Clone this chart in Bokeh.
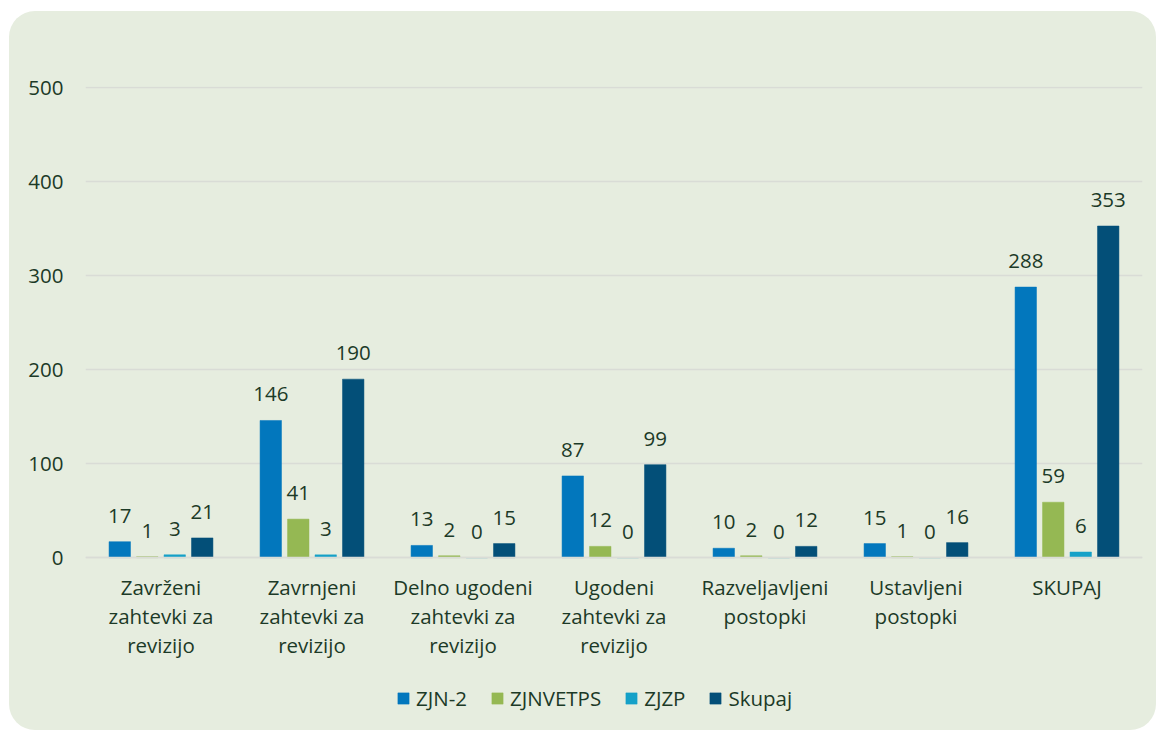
from bokeh.plotting import figure
from bokeh.models import ColumnDataSource, FactorRange, Range1d, Legend, LegendItem
from bokeh.transform import dodge
from bokeh.core.properties import value
from bokeh.embed import file_html
from bokeh.resources import INLINE

categories = [
    "Zavrženi\nzahtevki za\nrevizijo",
    "Zavrnjeni\nzahtevki za\nrevizijo",
    "Delno ugodeni\nzahtevki za\nrevizijo",
    "Ugodeni\nzahtevki za\nrevizijo",
    "Razveljavljeni\npostopki",
    "Ustavljeni\npostopki",
    "SKUPAJ",
]
series_names = ["ZJN-2", "ZJNVETPS", "ZJZP", "Skupaj"]
zjn2 = [17, 146, 13, 87, 10, 15, 288]
zjnvetps = [1, 41, 2, 12, 2, 1, 59]
zjzp = [3, 3, 0, 0, 0, 0, 6]
skupaj = [21, 190, 15, 99, 12, 16, 353]
y_ticks = [0, 100, 200, 300, 400, 500]

colors = ["#0277BD", "#95B853", "#15A1C8", "#034F78"]
offsets = [-0.273, -0.091, 0.091, 0.273]
bar_w = 0.142

BG = "#E6EDDF"
TXT = "#1C3A27"
FONT = "Open Sans"

src = ColumnDataSource(dict(
    cat=categories,
    s0=zjn2, s1=zjnvetps, s2=zjzp, s3=skupaj,
    l0=[str(v) for v in zjn2], l1=[str(v) for v in zjnvetps],
    l2=[str(v) for v in zjzp], l3=[str(v) for v in skupaj],
))

p = figure(
    x_range=FactorRange(*categories, range_padding=0.0),
    y_range=Range1d(-184, 501.5),
    width=1147, height=719,
    output_backend="svg", toolbar_location=None,
    min_border_left=76, min_border_right=14, min_border_top=75, min_border_bottom=0,
)
p.margin = (11, 0, 0, 9)
p.styles = {"border-radius": "26px", "overflow": "hidden", "background-color": BG}
p.background_fill_color = BG
p.background_fill_alpha = 0
p.border_fill_color = BG
p.border_fill_alpha = 0
p.outline_line_color = None

renderers = []
for i, name in enumerate(series_names):
    r = p.vbar(x=dodge("cat", offsets[i], range=p.x_range), top="s%d" % i, width=bar_w,
               source=src, fill_color=colors[i], line_color=colors[i], line_width=0.5)
    renderers.append(r)
    p.text(x=dodge("cat", offsets[i], range=p.x_range), y="s%d" % i, text="l%d" % i,
           source=src, text_align="center", text_baseline="bottom", y_offset=-19,
           text_font=value(FONT), text_font_size="20.5px", text_color=TXT)

p.xgrid.grid_line_color = None
p.ygrid.grid_line_color = "#D9DCD6"
p.ygrid.grid_line_width = 1.5
p.yaxis.ticker = y_ticks
p.yaxis.axis_line_color = None
p.yaxis.major_tick_line_color = None
p.yaxis.minor_tick_line_color = None
p.yaxis.major_label_standoff = 16
p.yaxis.major_label_text_font = FONT
p.yaxis.major_label_text_font_size = "20.5px"
p.yaxis.major_label_text_color = TXT

p.xaxis.fixed_location = 0
p.xaxis.axis_line_color = "#D9DCD6"
p.xaxis.axis_line_width = 1.5
p.xaxis.major_tick_line_color = None
p.xaxis.minor_tick_line_color = None
p.xaxis.major_label_standoff = 9
p.xaxis.major_label_text_font = FONT
p.xaxis.major_label_text_font_size = "20.5px"
p.xaxis.major_label_text_color = TXT
p.xaxis.major_label_text_line_height = 1.04

legend = Legend(
    items=[LegendItem(label=series_names[i], renderers=[renderers[i]]) for i in range(4)],
    orientation="horizontal", location=(311, 18),
    background_fill_alpha=0, border_line_color=None,
    glyph_width=14, glyph_height=14, spacing=23, label_standoff=6,
    label_text_font=FONT, label_text_font_size="20.5px", label_text_color=TXT,
    padding=0, margin=0,
)
p.add_layout(legend, "center")

open("out.html", "w").write(file_html(p, INLINE))
